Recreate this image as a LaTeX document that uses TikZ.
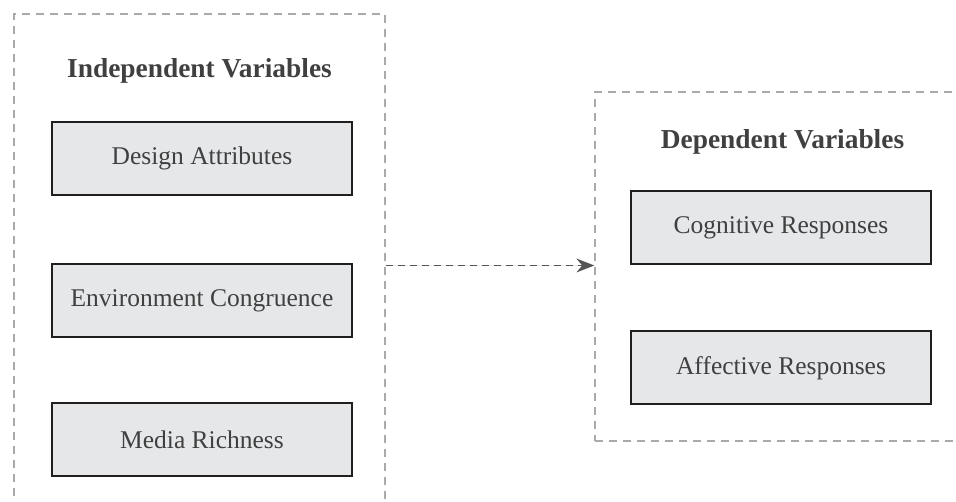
\documentclass[tikz,border=0pt]{standalone}
\usepackage{fontspec}
\setmainfont{Liberation Serif}
\usetikzlibrary{arrows.meta}
\definecolor{txtgray}{HTML}{404040}
\definecolor{boxfill}{HTML}{E6E7E9}
\definecolor{framegray}{HTML}{AAAAAA}
\definecolor{arrowgray}{HTML}{555555}
\tikzset{
  frame/.style={draw=framegray, line width=1.3pt, dash pattern=on 8pt off 6pt, inner sep=0pt},
  kvar/.style={draw=black!88, line width=2pt, fill=boxfill, minimum width=300pt, minimum height=73pt,
    inner sep=0pt, text=txtgray, font=\fontsize{25.5}{30}\selectfont},
  ktitle/.style={anchor=base, text=txtgray, font=\fontsize{27.4}{32}\selectfont\bfseries},
  flow/.style={-{Stealth[length=18pt, width=14pt, line width=0pt]}, draw=arrowgray, fill=arrowgray, line width=1.5pt, dash pattern=on 7pt off 5pt},
}

\begin{document}
\begin{tikzpicture}[x=1pt, y=-1pt]
    \useasboundingbox (0,0) rectangle (956,502);
    \clip (0,0) rectangle (956,502);
    \node[frame, minimum width=371pt, minimum height=506pt] (indep) at (199.5,267) {};
    \node[frame, minimum width=375pt, minimum height=349pt] (dep) at (782.5,266.5) {};
    \node[ktitle] (indeptitle) at (199.5,78) {Independent Variables};
    \node[ktitle] (deptitle) at (782.5,149) {Dependent Variables};
    \node[kvar] (design) at (202,158.5) {Design Attributes};
    \node[kvar] (envcong) at (202,300.5) {Environment Congruence};
    \node[kvar] (media) at (202,439.5) {Media Richness};
    \node[kvar] (cognitive) at (781,228) {Cognitive Responses};
    \node[kvar] (affective) at (781,368) {Affective Responses};
    \draw[flow] (indep.east |- cognitive.south) -- (dep.west |- cognitive.south);
  \end{tikzpicture}
\end{document}
